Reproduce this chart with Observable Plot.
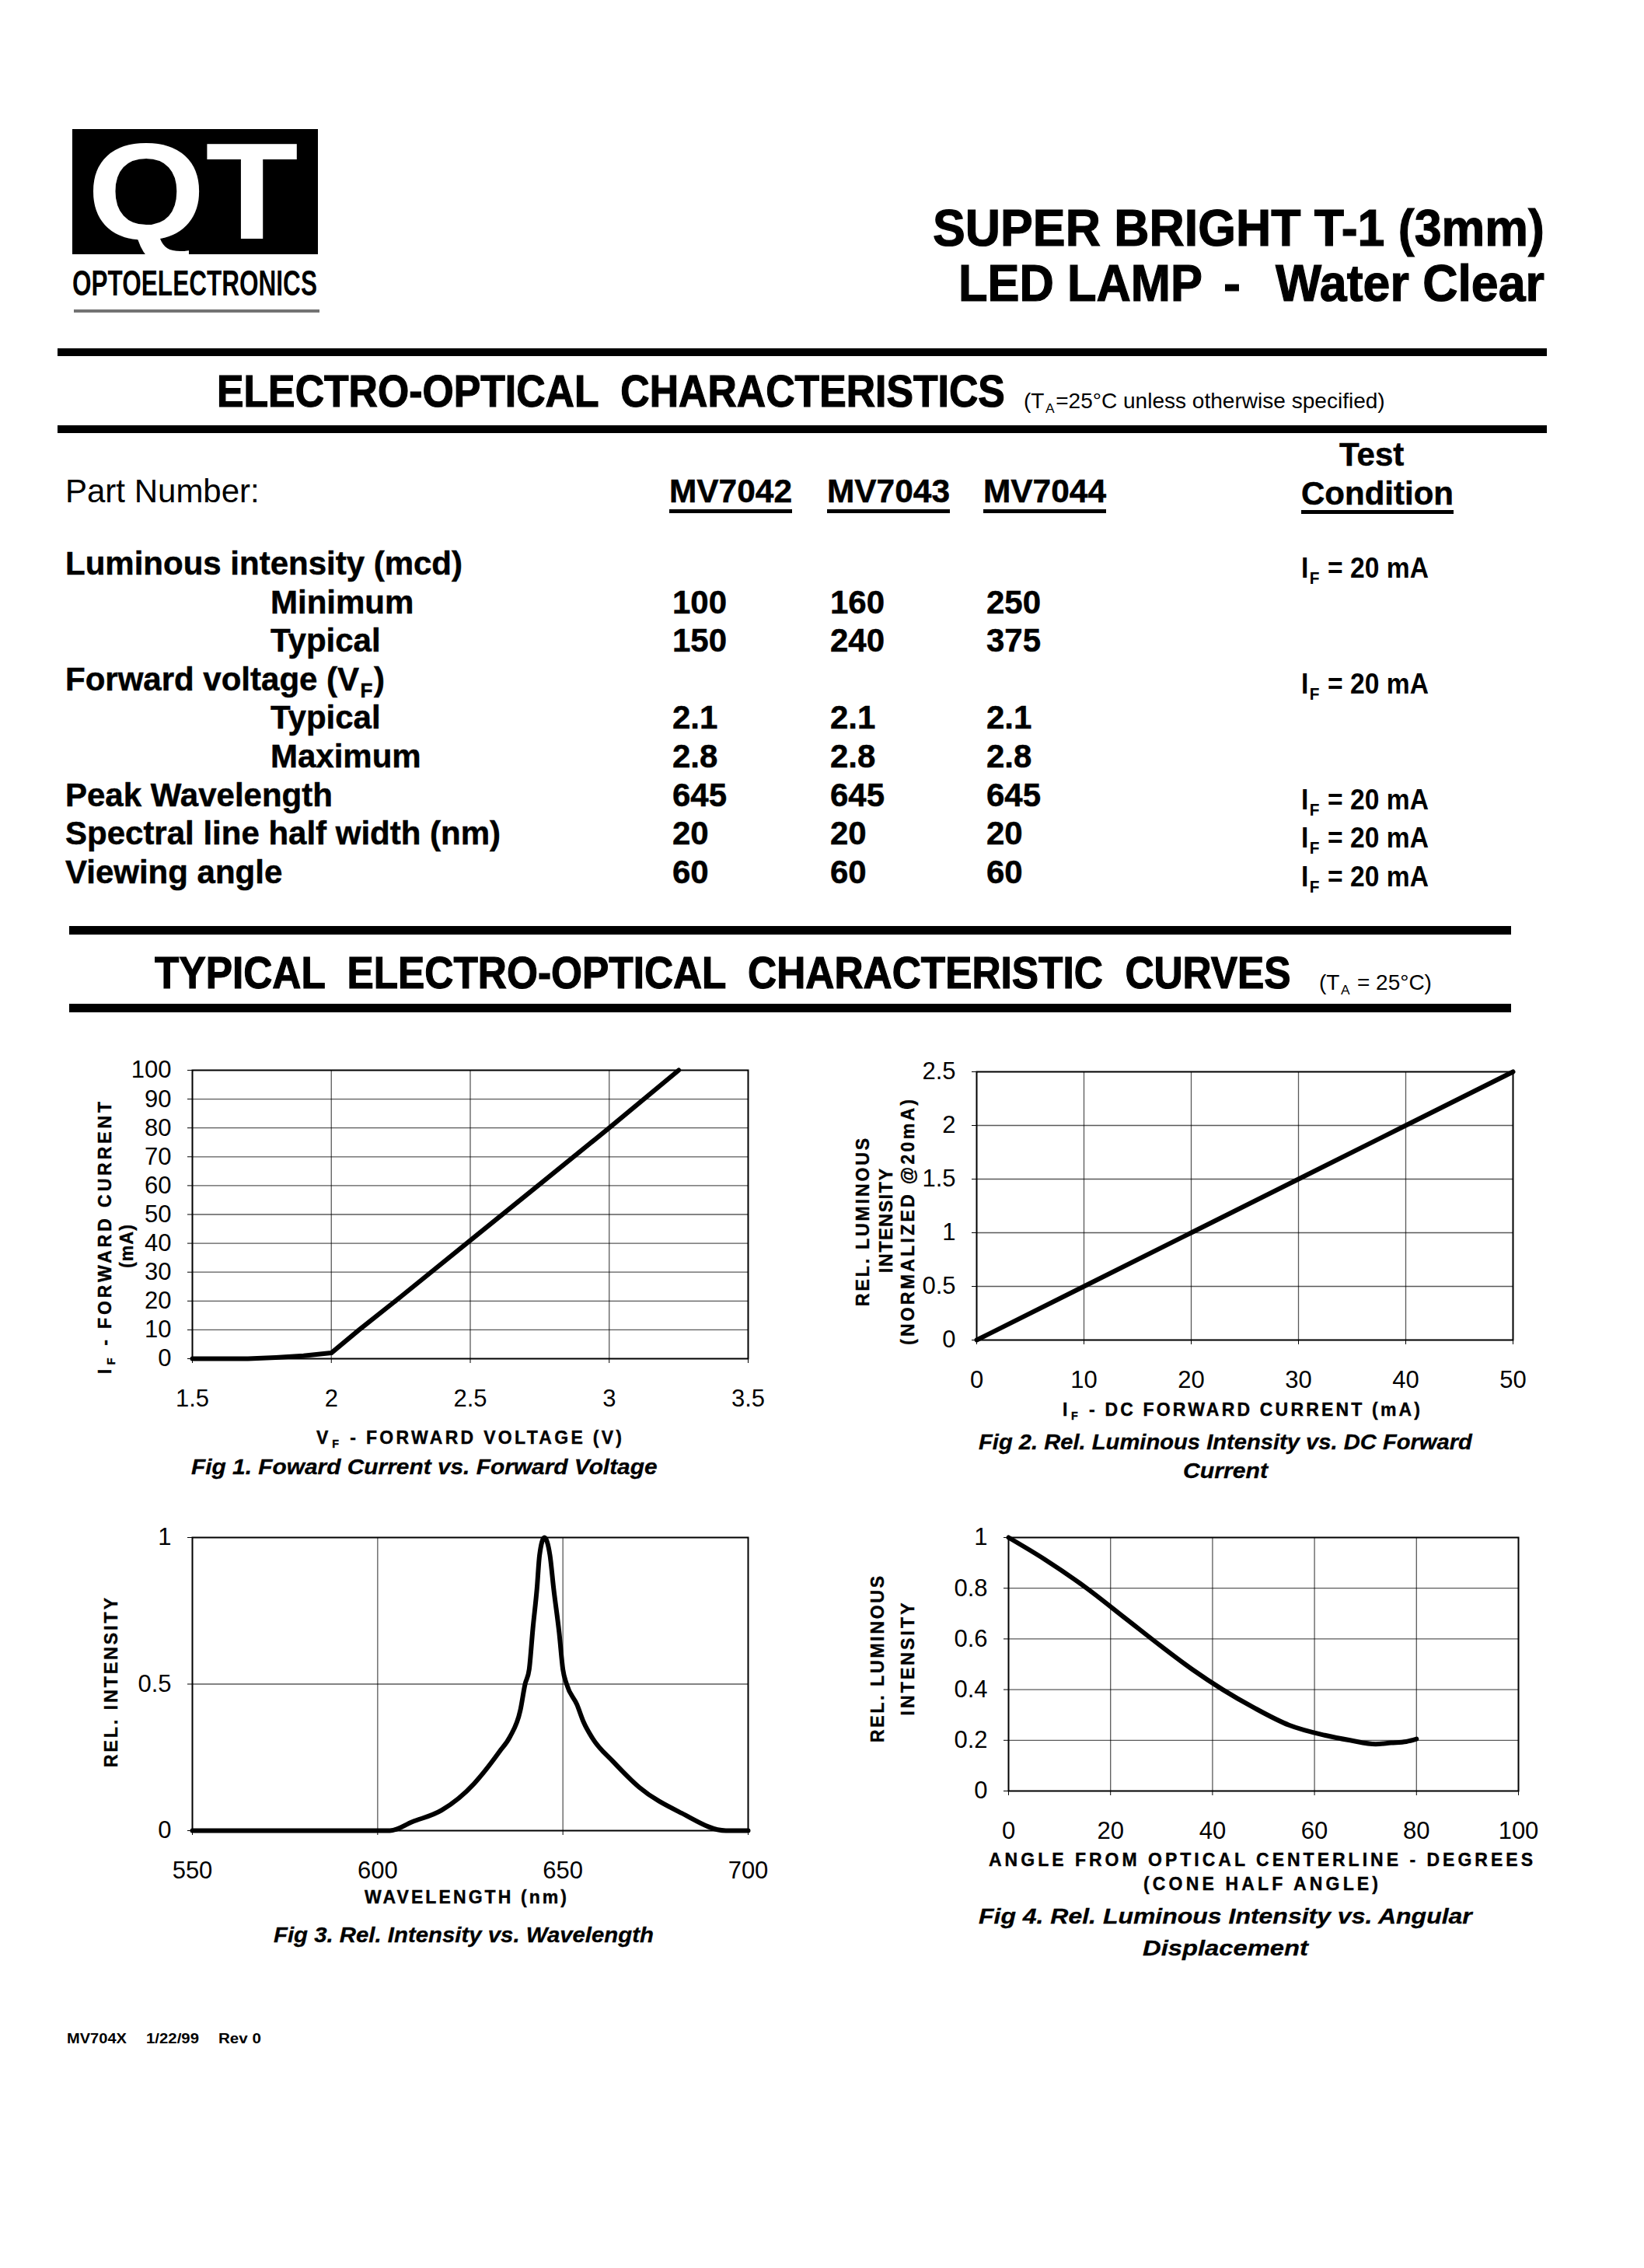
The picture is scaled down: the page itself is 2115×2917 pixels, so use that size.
<!DOCTYPE html>
<html><head><meta charset="utf-8">
<script src="https://cdn.jsdelivr.net/npm/d3@7"></script>
<script src="https://cdn.jsdelivr.net/npm/@observablehq/plot@0.6"></script>
<style>
html,body{margin:0;padding:0;background:#fff;}
#page{position:relative;width:2115px;height:2917px;overflow:hidden;background:#fff;}
#page svg.overlay{position:absolute;left:0;top:0;}
.chart{position:absolute;}
</style></head><body><div id="page"></div>
<script>
// ---------------- DATA ----------------
const partNumbers = ["MV7042", "MV7043", "MV7044"];
const specRows = ["Luminous intensity (mcd)", "Minimum", "Typical", "Forward voltage (V_{F})", "Typical", "Maximum", "Peak Wavelength", "Spectral line half width (nm)", "Viewing angle"];
const specSubRow = [false, true, true, false, true, true, false, false, false];
const mv7042Values = [null, 100, 150, null, 2.1, 2.8, 645, 20, 60];
const mv7043Values = [null, 160, 240, null, 2.1, 2.8, 645, 20, 60];
const mv7044Values = [null, 250, 375, null, 2.1, 2.8, 645, 20, 60];
const testCondition = ["I_{F} = 20 mA", null, null, "I_{F} = 20 mA", null, null, "I_{F} = 20 mA", "I_{F} = 20 mA", "I_{F} = 20 mA"];

// Fig 1: forward current vs forward voltage
const fig1Voltage = [1.5, 1.7, 1.8, 1.9, 2.0, 2.1, 2.25, 2.5, 2.75, 3.0, 3.25];
const fig1Current = [0, 0, 0.4, 1, 2, 10, 21.5, 41, 60.5, 80, 100];
const fig1XTicks = [1.5, 2, 2.5, 3, 3.5];
const fig1YTicks = [0, 10, 20, 30, 40, 50, 60, 70, 80, 90, 100];
const fig1XGrid = [2, 2.5, 3];
const fig1YGrid = [10, 20, 30, 40, 50, 60, 70, 80, 90];

// Fig 2: rel. luminous intensity vs DC forward current
const fig2Current = [0, 10, 20, 30, 40, 50];
const fig2Intensity = [0, 0.5, 1.0, 1.5, 2.0, 2.5];
const fig2XTicks = [0, 10, 20, 30, 40, 50];
const fig2YTicks = [0, 0.5, 1, 1.5, 2, 2.5];
const fig2XGrid = [10, 20, 30, 40];
const fig2YGrid = [0.5, 1, 1.5, 2];

// Fig 3: rel. intensity vs wavelength
const fig3Wavelength = [550, 603.3, 609.3, 617.3, 626, 628.7, 632.9, 635.7, 638.5, 639.8, 640.9, 641.9, 643.0, 643.7, 645, 646.5, 647.5, 649, 650, 651, 653.8, 655.6, 658, 663.6, 670.6, 682, 694, 700];
const fig3Intensity = [0, 0, 0.03, 0.07, 0.16, 0.20, 0.27, 0.32, 0.41, 0.50, 0.55, 0.69, 0.826, 0.94, 1.0, 0.94, 0.826, 0.675, 0.55, 0.50, 0.43, 0.37, 0.315, 0.235, 0.148, 0.06, 0, 0];
const fig3XTicks = [550, 600, 650, 700];
const fig3YTicks = [0, 0.5, 1];
const fig3XGrid = [600, 650];
const fig3YGrid = [0.5];

// Fig 4: rel. luminous intensity vs angular displacement
const fig4Angle = [0, 7, 15, 23, 30, 36, 42, 48, 55, 62, 67, 72, 75, 78, 80];
const fig4Intensity = [1.0, 0.915, 0.805, 0.68, 0.57, 0.48, 0.40, 0.33, 0.26, 0.22, 0.20, 0.185, 0.19, 0.195, 0.205];
const fig4XTicks = [0, 20, 40, 60, 80, 100];
const fig4YTicks = [0, 0.2, 0.4, 0.6, 0.8, 1];
const fig4XGrid = [20, 40, 60, 80];
const fig4YGrid = [0.2, 0.4, 0.6, 0.8];

// ---------------- RENDER ----------------
const NS = "http://www.w3.org/2000/svg";
const FONT = "'Liberation Sans', Arial, Helvetica, sans-serif";
const page = document.getElementById("page");
const ov = document.createElementNS(NS, "svg");
ov.setAttribute("class", "overlay");
ov.setAttribute("width", 2115);
ov.setAttribute("height", 2917);
page.appendChild(ov);

function addRect(x, y, w, h, fill = "#000", extra = {}) {
  const r = document.createElementNS(NS, "rect");
  r.setAttribute("x", x); r.setAttribute("y", y);
  r.setAttribute("width", w); r.setAttribute("height", h);
  r.setAttribute("fill", fill);
  for (const k in extra) r.setAttribute(k, extra[k]);
  ov.appendChild(r);
  return r;
}

function styleText(t, size, o) {
  t.setAttribute("font-family", o.family || FONT);
  t.setAttribute("font-size", size);
  t.setAttribute("font-weight", o.weight || "bold");
  if (o.italic) t.setAttribute("font-style", "italic");
  t.setAttribute("fill", o.fill || "#000");
  if (o.stroke) { t.setAttribute("stroke", o.fill || "#000"); t.setAttribute("stroke-width", o.stroke); }
  t.setAttribute("style", "white-space:pre");
}

// Text helper: "_{..}" marks a subscript (separate piece). Width fitting uses
// a horizontal scale transform (glyphs) or letter-spacing (spacing).
function addText(str, x, y, o = {}) {
  const size = o.size || 40;
  const parts = str.split(/(_\{[^}]*\})/).filter(p => p);
  const g = document.createElementNS(NS, "g");
  ov.appendChild(g);
  const pieces = parts.map(p => { const m = p.match(/^_\{(.*)\}$/); return {txt: m ? m[1] : p, sub: !!m}; });
  const els = pieces.map(p => {
    const t = document.createElementNS(NS, "text");
    styleText(t, p.sub ? size * 0.62 : size, o);
    t.textContent = p.txt;
    g.appendChild(t);
    return t;
  });
  const gap = els.length > 1 ? 1.5 : 0;
  const widths = els.map(e => e.getComputedTextLength());
  const natural = widths.reduce((s, w) => s + w, 0) + gap * (els.length - 1);
  const nchars = pieces.reduce((s, p) => s + p.txt.length, 0);
  let ls = 0, sx = 1;
  if (o.width && natural > 0) {
    if (o.adjust === "spacing") ls = (o.width - natural) / Math.max(1, nchars - 1);
    else sx = o.width / natural;
  }
  let cx = 0;
  els.forEach((e, i) => {
    if (ls) e.setAttribute("letter-spacing", ls);
    e.setAttribute("x", cx);
    e.setAttribute("y", pieces[i].sub ? size * 0.22 : 0);
    cx += widths[i] + ls * pieces[i].txt.length + gap;
  });
  const W = o.width || natural;
  const off = o.anchor === "middle" ? -W / 2 : (o.anchor === "end" ? -W : 0);
  g.setAttribute("transform", `translate(${x},${y}) rotate(${o.rotate || 0}) translate(${off},0) scale(${sx},1)`);
  return g;
}

// Logo
addRect(93, 166, 316, 161);
addText("QT", 112, 307, {size: 176, fill: "#fff", width: 272});
addText("OPTOELECTRONICS", 93, 380, {size: 46, width: 315});
addRect(95, 398, 316, 4, "#000", {opacity: 0.55});

// Title
const H = {stroke: 1.2};
addText("SUPER BRIGHT T-1 (3mm)", 1200, 316, {...H, size: 66, width: 787});
addText("LED LAMP", 1233, 387, {...H, size: 66, width: 314});
addText("-", 1574, 387, {...H, size: 66});
addText("Water Clear", 1641, 387, {...H, size: 66, width: 346});

// Section 1
addRect(74, 448, 1916, 10);
addText("ELECTRO-OPTICAL  CHARACTERISTICS", 279, 523, {...H, size: 58, width: 1014});
addText("(T_{A}=25°C unless otherwise specified)", 1317, 525, {size: 27, weight: "normal", width: 465});
addRect(74, 547, 1916, 10);

// Table header
const colX = [865, 1068, 1269];
const B = {size: 42, stroke: 0.5};
addText("Part Number:", 84, 646, {size: 42, weight: "normal"});
partNumbers.forEach((p, j) => {
  addText(p, colX[j] - 4, 646, {...B, width: 158});
  addRect(colX[j] - 4, 655, 158, 5);
});
addText("Test", 1723, 599, B);
addText("Condition", 1674, 649, {...B, width: 196});
addRect(1674, 656, 196, 5);

// Table rows
const partValues = [mv7042Values, mv7043Values, mv7044Values];
specRows.forEach((label, i) => {
  const y = 739 + i * 49.6;
  addText(label, specSubRow[i] ? 348 : 84, y, B);
  partValues.forEach((vals, j) => {
    if (vals[i] != null) addText(String(vals[i]), colX[j], y, B);
  });
  if (testCondition[i]) addText(testCondition[i], 1674, y + 4, {size: 37, width: 164});
});

// Section 2
addRect(89, 1191, 1855, 11);
addText("TYPICAL  ELECTRO-OPTICAL  CHARACTERISTIC  CURVES", 199, 1271, {...H, size: 58, width: 1462});
addText("(T_{A} = 25°C)", 1697, 1273, {size: 27, weight: "normal", width: 145});
addRect(89, 1291, 1855, 11);

// Footer
addText("MV704X", 86, 2628, {size: 18, width: 77});
addText("1/22/99", 188, 2628, {size: 18, width: 68});
addText("Rev 0", 281, 2628, {size: 18, width: 55});

// Chart labels
const AX = {size: 23, adjust: "spacing", stroke: 0.4};
const CAP = {size: 28, italic: true, stroke: 0.3};
// Fig 1
addText("I_{F} - FORWARD CURRENT", 143, 1592, {...AX, anchor: "middle", rotate: -90, width: 350});
addText("(mA)", 171, 1603, {...AX, anchor: "middle", rotate: -90, width: 56});
addText("V_{F} - FORWARD VOLTAGE (V)", 407, 1857, {...AX, width: 393});
addText("Fig 1. Foward Current vs. Forward Voltage", 246, 1896, {...CAP, width: 600});
// Fig 2
addText("REL. LUMINOUS", 1118, 1572, {...AX, anchor: "middle", rotate: -90, width: 216});
addText("INTENSITY", 1148, 1570, {...AX, anchor: "middle", rotate: -90, width: 134});
addText("(NORMALIZED @20mA)", 1176, 1572, {...AX, anchor: "middle", rotate: -90, width: 316});
addText("I_{F} - DC FORWARD CURRENT (mA)", 1367, 1821, {...AX, width: 460});
addText("Fig 2. Rel. Luminous Intensity vs. DC Forward", 1259, 1864, {...CAP, width: 635});
addText("Current", 1522, 1901, {...CAP, width: 109});
// Fig 3
addText("REL. INTENSITY", 151, 2164, {...AX, anchor: "middle", rotate: -90, width: 218});
addText("WAVELENGTH (nm)", 469, 2448, {...AX, width: 260});
addText("Fig 3. Rel. Intensity vs. Wavelength", 352, 2498, {...CAP, width: 489});
// Fig 4
addText("REL. LUMINOUS", 1137, 2134, {...AX, anchor: "middle", rotate: -90, width: 214});
addText("INTENSITY", 1176, 2134, {...AX, anchor: "middle", rotate: -90, width: 145});
addText("ANGLE FROM OPTICAL CENTERLINE - DEGREES", 1272, 2400, {...AX, width: 700});
addText("(CONE HALF ANGLE)", 1471, 2431, {...AX, width: 302});
addText("Fig 4. Rel. Luminous Intensity vs. Angular", 1259, 2474, {...CAP, width: 635});
addText("Displacement", 1470, 2515, {...CAP, width: 213});

// Charts
const M = {l: 95, r: 45, t: 20, b: 75};
function chart({xs, ys, xDomain, yDomain, xTicks, yTicks, xGrid, yGrid, frame, curve}) {
  const [fl, ft, fw, fh] = frame;
  const data = xs.map((x, i) => ({x, y: ys[i]}));
  const svg = Plot.plot({
    width: fw + M.l + M.r,
    height: fh + M.t + M.b,
    marginLeft: M.l, marginRight: M.r, marginTop: M.t, marginBottom: M.b,
    x: {domain: xDomain},
    y: {domain: yDomain},
    style: {fontFamily: FONT, fontSize: "31px", color: "#000", background: "none", overflow: "visible"},
    marks: [
      Plot.ruleX(xGrid, {x: d => d, stroke: "#000", strokeOpacity: 0.65, strokeWidth: 1.3}),
      Plot.ruleY(yGrid, {y: d => d, stroke: "#000", strokeOpacity: 0.65, strokeWidth: 1.3}),
      Plot.frame({stroke: "#000", strokeWidth: 2}),
      Plot.axisX({ticks: xTicks, tickSize: 6, tickPadding: 33, tickFormat: d => String(d), label: null}),
      Plot.axisY({ticks: yTicks, tickSize: 6, tickPadding: 21, tickFormat: d => String(d), label: null}),
      Plot.line(data, {x: "x", y: "y", stroke: "#000", strokeWidth: 6, strokeLinejoin: "round", strokeLinecap: "round", curve: curve || "linear"})
    ]
  });
  svg.classList.add("chart");
  svg.style.left = (fl - M.l) + "px";
  svg.style.top = (ft - M.t) + "px";
  page.appendChild(svg);
}

chart({xs: fig1Voltage, ys: fig1Current, xDomain: [1.5, 3.5], yDomain: [0, 100], xTicks: fig1XTicks, yTicks: fig1YTicks, xGrid: fig1XGrid, yGrid: fig1YGrid, frame: [247, 1376, 715, 371]});
chart({xs: fig2Current, ys: fig2Intensity, xDomain: [0, 50], yDomain: [0, 2.5], xTicks: fig2XTicks, yTicks: fig2YTicks, xGrid: fig2XGrid, yGrid: fig2YGrid, frame: [1256, 1378, 690, 345]});
chart({xs: fig3Wavelength, ys: fig3Intensity, xDomain: [550, 700], yDomain: [0, 1], xTicks: fig3XTicks, yTicks: fig3YTicks, xGrid: fig3XGrid, yGrid: fig3YGrid, frame: [247, 1977, 715, 377], curve: "monotone-x"});
chart({xs: fig4Angle, ys: fig4Intensity, xDomain: [0, 100], yDomain: [0, 1], xTicks: fig4XTicks, yTicks: fig4YTicks, xGrid: fig4XGrid, yGrid: fig4YGrid, frame: [1297, 1977, 656, 326], curve: "monotone-x"});
</script></body></html>
